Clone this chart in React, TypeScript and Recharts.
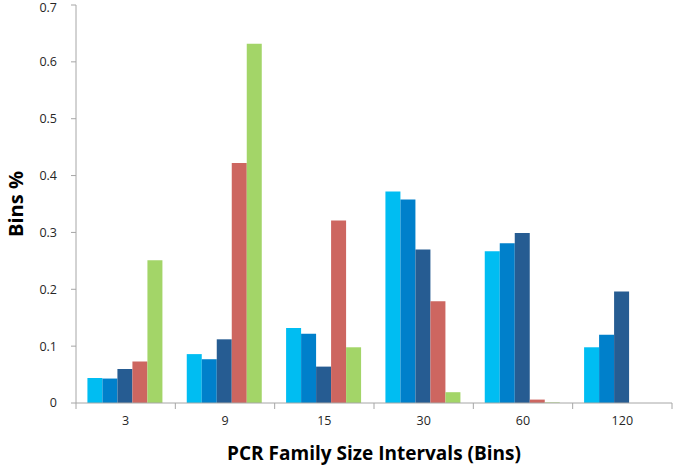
import { BarChart, Bar, XAxis, YAxis, Label } from "recharts";

const categories = ["3", "9", "15", "30", "60", "120"];
const series1 = [0.044, 0.086, 0.132, 0.372, 0.267, 0.098];
const series2 = [0.043, 0.077, 0.122, 0.358, 0.281, 0.12];
const series3 = [0.06, 0.112, 0.064, 0.27, 0.299, 0.196];
const series4 = [0.073, 0.422, 0.321, 0.179, 0.006, 0];
const series5 = [0.251, 0.632, 0.098, 0.019, 0.001, 0];
const yTicks = [0, 0.1, 0.2, 0.3, 0.4, 0.5, 0.6, 0.7];

const data = categories.map((c, i) => ({
  bin: c,
  s1: series1[i],
  s2: series2[i],
  s3: series3[i],
  s4: series4[i],
  s5: series5[i],
}));

const axisColor = "#a6a6a6";
const font = "'Open Sans', 'Liberation Sans', sans-serif";

function BinTick(props: any) {
  const { x, y, payload, index } = props;
  const off = payload.offset || 0;
  const last = index === categories.length - 1;
  return (
    <g>
      <line x1={x - off} y1={y - 6} x2={x - off} y2={y} stroke={axisColor} />
      {last && <line x1={x + off} y1={y - 6} x2={x + off} y2={y} stroke={axisColor} />}
      <text x={x} y={y + 16} textAnchor="middle" fontSize={12.5} fill="#262626" fontFamily={font}>
        {payload.value}
      </text>
    </g>
  );
}

export default function App() {
  return (
    <div style={{ position: "absolute", left: 0, top: 0, background: "#fff" }}>
      <BarChart
        width={675}
        height={469}
        data={data}
        margin={{ top: 5, right: 3, left: 0, bottom: 0 }}
        barCategoryGap="11.5%"
        barGap={0}
      >
        <XAxis
          dataKey="bin"
          height={66}
          stroke={axisColor}
          tickLine={false}
          tickSize={6}
          tickMargin={0}
          tick={<BinTick />}
          interval={0}
        >
          <Label
            value="PCR Family Size Intervals (Bins)"
            position="center"
            dy={17}
            fontSize={19}
            fontWeight="bold"
            fill="#000"
            fontFamily={font}
          />
        </XAxis>
        <YAxis
          width={76}
          domain={[0, 0.7]}
          ticks={yTicks}
          stroke={axisColor}
          tickSize={5}
          tickMargin={14}
          tick={{ fontSize: 12.5, fill: "#262626", fontFamily: font }}
          tickFormatter={(v: number) => (v === 0 ? "0" : String(v))}
        >
          <Label
            value="Bins %"
            position="center"
            angle={-90}
            dx={-22}
            fontSize={20}
            fontWeight="bold"
            fill="#000"
            fontFamily={font}
          />
        </YAxis>
        <Bar dataKey="s1" fill="#00bdf2" isAnimationActive={false} />
        <Bar dataKey="s2" fill="#0080cb" isAnimationActive={false} />
        <Bar dataKey="s3" fill="#265c92" isAnimationActive={false} />
        <Bar dataKey="s4" fill="#cd6660" isAnimationActive={false} />
        <Bar dataKey="s5" fill="#a3d568" isAnimationActive={false} />
      </BarChart>
    </div>
  );
}
